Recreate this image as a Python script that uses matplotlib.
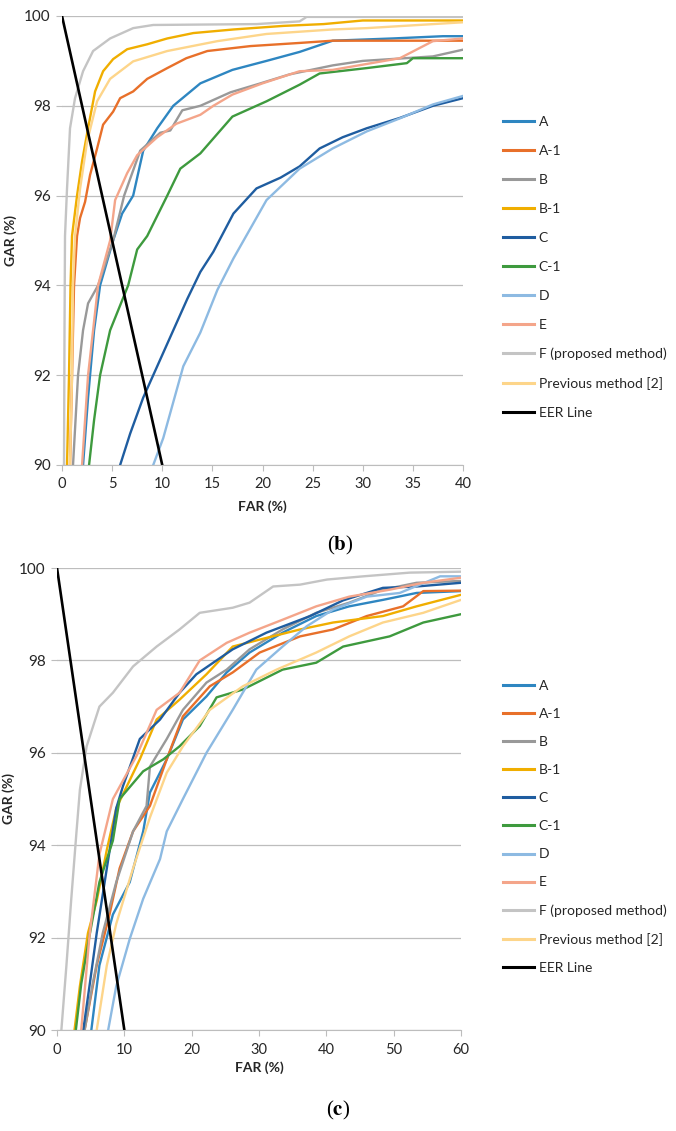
import matplotlib
matplotlib.use("Agg")
import matplotlib.pyplot as plt
from matplotlib.lines import Line2D

plt.rcParams['font.family'] = ['Lato', 'DejaVu Sans']
plt.rcParams['mathtext.fontset'] = 'stix'

# ---------------------------------------------------------------------------
# Data
# ---------------------------------------------------------------------------

series_names = ["A", "A-1", "B", "B-1", "C", "C-1", "D", "E",
                "F (proposed method)", "Previous method [2]"]
series_colors = ["#2E86C1", "#E8702A", "#999999", "#F0AE00", "#1F5DA0",
                 "#3E9A3E", "#8DBAE2", "#F4A58A", "#C4C4C4", "#FDD58A"]

eer_far = [0, 10]
eer_gar = [100, 90]

# --- panel (b) ---
b_far_A = [2.1, 2.6, 3.2, 3.8, 5.1, 6.0, 7.1, 8.1, 9.5, 11.1, 13.8, 17.0, 20.4, 23.7, 27.0, 33.0, 38.0, 40.0]
b_gar_A = [90, 91.5, 93, 94, 95, 95.6, 96, 97, 97.5, 98, 98.5, 98.8, 99.0, 99.2, 99.45, 99.5, 99.55, 99.55]
b_far_A1 = [0.8, 1.0, 1.2, 1.5, 1.8, 2.3, 2.8, 3.5, 4.1, 5.1, 5.8, 7.1, 8.5, 10.5, 12.4, 14.5, 18.8, 23.7, 27.0, 40.0]
b_gar_A1 = [90, 92, 94, 95.1, 95.5, 95.86, 96.46, 97.05, 97.58, 97.87, 98.17, 98.32, 98.6, 98.84, 99.06, 99.22, 99.33, 99.4, 99.45, 99.45]
b_far_B = [1.1, 1.6, 2.1, 2.6, 3.6, 5.1, 6.2, 7.8, 9.8, 10.8, 12.0, 13.8, 16.8, 19.8, 22.7, 27.0, 30.0, 37.0, 40.0]
b_gar_B = [90, 92, 93, 93.6, 94, 95, 96, 97, 97.4, 97.45, 97.9, 98.0, 98.3, 98.5, 98.7, 98.9, 99.0, 99.1, 99.25]
b_far_B1 = [0.5, 0.7, 0.85, 1.0, 1.5, 2.0, 2.6, 3.3, 4.1, 5.1, 6.5, 8.5, 10.5, 13.1, 17.1, 22.1, 26.1, 30.0, 40.0]
b_gar_B1 = [90, 92, 94, 95.1, 96.0, 96.76, 97.5, 98.32, 98.77, 99.04, 99.26, 99.37, 99.5, 99.62, 99.7, 99.78, 99.82, 99.9, 99.9]
b_far_C = [5.8, 6.8, 8.1, 9.1, 10.5, 12.5, 13.8, 15.1, 17.1, 19.4, 21.8, 23.7, 25.7, 28.0, 30.4, 33.7, 37.0, 40.0]
b_gar_C = [90, 90.7, 91.5, 92.0, 92.7, 93.7, 94.3, 94.75, 95.6, 96.16, 96.4, 96.65, 97.05, 97.3, 97.5, 97.73, 98.0, 98.17]
b_far_C1 = [2.7, 3.2, 3.8, 4.8, 6.6, 7.5, 8.5, 10.5, 11.8, 13.8, 17.0, 20.4, 23.7, 25.7, 30.4, 34.4, 35.0, 40.0]
b_gar_C1 = [90, 91, 92, 93, 94, 94.8, 95.1, 96.0, 96.6, 96.94, 97.76, 98.1, 98.47, 98.72, 98.84, 98.95, 99.06, 99.06]
b_far_D = [9.1, 10.1, 11.1, 12.1, 13.8, 15.5, 17.1, 20.4, 23.7, 27.0, 30.4, 33.7, 37.0, 40.0]
b_gar_D = [90, 90.6, 91.4, 92.2, 92.95, 93.9, 94.6, 95.9, 96.6, 97.05, 97.43, 97.72, 98.03, 98.22]
b_far_E = [2.0, 2.6, 3.6, 4.8, 5.3, 6.5, 7.5, 9.5, 11.4, 13.8, 15.1, 17.0, 20.0, 23.7, 27.0, 33.7, 37.0, 40.0]
b_gar_E = [90, 92, 94, 95, 95.9, 96.5, 96.9, 97.3, 97.6, 97.8, 98.0, 98.25, 98.5, 98.77, 98.8, 99.06, 99.44, 99.5]
b_far_F = [0.2, 0.25, 0.3, 0.5, 0.8, 1.3, 2.1, 3.1, 4.8, 7.1, 9.1, 19.4, 23.7, 24.4, 40.0]
b_gar_F = [90, 93, 95.1, 96.15, 97.5, 98.17, 98.77, 99.22, 99.5, 99.73, 99.8, 99.82, 99.88, 99.98, 99.98]
b_far_P = [0.8, 1.0, 1.1, 1.3, 1.8, 2.5, 3.5, 4.8, 7.1, 10.5, 15.5, 20.4, 27.0, 30.4, 40.0]
b_gar_P = [90, 92, 94, 95.1, 96.15, 97.2, 98.1, 98.6, 98.99, 99.22, 99.44, 99.6, 99.7, 99.73, 99.86]

# --- panel (c) ---
c_far_A = [5.1, 6.3, 8.3, 10.8, 12.8, 13.8, 16.3, 18.7, 22.2, 25.2, 28.6, 33.5, 38.5, 43.4, 48.4, 53.4, 60.0]
c_gar_A = [90, 91.4, 92.5, 93.2, 94.3, 95.14, 95.86, 96.72, 97.22, 97.74, 98.17, 98.6, 98.96, 99.17, 99.31, 99.46, 99.5]
c_far_A1 = [4.1, 5.9, 7.8, 9.3, 11.3, 13.8, 16.3, 18.7, 22.7, 26.1, 30.1, 36.1, 41.0, 46.0, 51.4, 54.4, 60.0]
c_gar_A1 = [90, 91.4, 92.5, 93.5, 94.3, 94.85, 95.86, 96.79, 97.44, 97.74, 98.17, 98.52, 98.67, 98.96, 99.17, 99.5, 99.51]
c_far_B = [4.1, 5.3, 6.8, 8.8, 11.3, 13.3, 13.8, 16.3, 18.7, 22.2, 25.2, 28.6, 33.5, 38.5, 43.4, 48.4, 53.4, 60.0]
c_gar_B = [90, 91.0, 92.1, 93.2, 94.3, 94.85, 95.7, 96.3, 96.93, 97.52, 97.8, 98.24, 98.67, 99.03, 99.25, 99.53, 99.68, 99.72]
c_far_B1 = [2.6, 3.4, 4.6, 5.9, 7.4, 8.8, 12.3, 14.8, 18.2, 22.2, 26.1, 30.1, 36.1, 41.0, 48.4, 53.4, 60.0]
c_gar_B1 = [90, 90.95, 92.1, 92.8, 93.9, 94.8, 95.86, 96.72, 97.15, 97.7, 98.3, 98.45, 98.67, 98.82, 98.96, 99.17, 99.42]
c_far_C = [3.9, 4.9, 5.9, 7.4, 8.8, 9.8, 12.3, 15.3, 18.2, 20.7, 26.1, 31.1, 37.6, 42.5, 48.4, 53.4, 60.0]
c_gar_C = [90, 91.03, 92.1, 93.5, 94.8, 95.28, 96.3, 96.72, 97.3, 97.7, 98.24, 98.6, 98.96, 99.3, 99.57, 99.6, 99.68]
c_far_C1 = [2.8, 3.6, 4.9, 6.3, 8.3, 9.3, 12.8, 15.8, 18.2, 21.2, 23.7, 27.6, 33.5, 38.5, 42.5, 49.4, 54.4, 60.0]
c_gar_C1 = [90, 91, 92.1, 93.2, 94.1, 95.0, 95.6, 95.86, 96.14, 96.58, 97.2, 97.37, 97.8, 97.95, 98.3, 98.52, 98.82, 99.0]
c_far_D = [7.6, 8.8, 10.8, 12.8, 15.3, 16.3, 18.7, 22.2, 26.1, 29.6, 33.5, 37.1, 41.0, 46.0, 50.9, 56.9, 60.0]
c_gar_D = [90, 90.95, 91.97, 92.84, 93.7, 94.3, 95.0, 96.0, 96.93, 97.8, 98.3, 98.74, 99.1, 99.38, 99.46, 99.82, 99.82]
c_far_E = [3.6, 4.8, 6.3, 8.3, 11.8, 14.8, 18.2, 21.2, 25.2, 28.6, 33.5, 38.5, 43.4, 49.4, 54.4, 60.0]
c_gar_E = [90, 92.0, 93.8, 95.0, 95.93, 96.93, 97.3, 98.0, 98.38, 98.6, 98.88, 99.17, 99.38, 99.53, 99.68, 99.79]
c_far_F = [0.65, 1.4, 2.1, 2.9, 3.4, 4.4, 6.3, 8.3, 11.3, 14.8, 18.2, 21.2, 26.1, 28.6, 32.1, 36.1, 40.1, 45.5, 52.4, 60.0]
c_gar_F = [90, 91.4, 92.8, 94.3, 95.2, 96.14, 97.0, 97.3, 97.87, 98.3, 98.67, 99.03, 99.14, 99.25, 99.6, 99.64, 99.75, 99.82, 99.9, 99.92]
c_far_P = [5.9, 7.4, 8.8, 11.3, 13.8, 16.3, 18.7, 22.7, 27.6, 32.6, 38.5, 43.4, 48.4, 54.4, 60.0]
c_gar_P = [90, 91.4, 92.3, 93.5, 94.6, 95.57, 96.14, 96.93, 97.44, 97.8, 98.17, 98.52, 98.82, 99.03, 99.31]

b_far = [b_far_A, b_far_A1, b_far_B, b_far_B1, b_far_C, b_far_C1, b_far_D, b_far_E, b_far_F, b_far_P]
b_gar = [b_gar_A, b_gar_A1, b_gar_B, b_gar_B1, b_gar_C, b_gar_C1, b_gar_D, b_gar_E, b_gar_F, b_gar_P]
c_far = [c_far_A, c_far_A1, c_far_B, c_far_B1, c_far_C, c_far_C1, c_far_D, c_far_E, c_far_F, c_far_P]
c_gar = [c_gar_A, c_gar_A1, c_gar_B, c_gar_B1, c_gar_C, c_gar_C1, c_gar_D, c_gar_E, c_gar_F, c_gar_P]

W, H = 676, 1131
GRID = "#BDBDBD"
TXT = "#262626"


def draw_panel(ax, fars, gars, xmax, xstep):
    for far, gar, color in zip(fars, gars, series_colors):
        ax.plot(far, gar, color=color, lw=1.7, solid_joinstyle="round")
    ax.plot(eer_far, eer_gar, color="black", lw=1.9)

    ax.set_xlim(0, xmax)
    ax.set_ylim(90, 100)
    ax.set_xticks(range(0, xmax + 1, xstep))
    ax.set_yticks(range(90, 101, 2))
    ax.grid(axis="y", color=GRID, lw=0.9)
    ax.set_axisbelow(True)
    for s in ("top", "right", "left"):
        ax.spines[s].set_visible(False)
    ax.spines["bottom"].set_color(GRID)
    ax.tick_params(axis="x", length=4, color=GRID, pad=5, labelsize=10.5, labelcolor=TXT)
    ax.tick_params(axis="y", length=4, color=GRID, pad=4, labelsize=11, labelcolor=TXT)

    ax.set_xlabel("FAR (%)", fontsize=10, fontweight="bold", color=TXT)
    ax.set_ylabel("GAR (%)", fontsize=10, fontweight="bold", color=TXT)


fig = plt.figure(figsize=(W / 100, H / 100), dpi=100)

ax_b = fig.add_axes([62 / W, 1 - 465 / H, 401 / W, 449 / H])
ax_c = fig.add_axes([57 / W, 1 - 1030 / H, 404 / W, 462 / H])

draw_panel(ax_b, b_far, b_gar, 40, 5)
draw_panel(ax_c, c_far, c_gar, 60, 10)

ax_b.xaxis.set_label_coords(0.5, -0.078)
ax_b.yaxis.set_label_coords(-0.112, 0.5)
ax_c.xaxis.set_label_coords(0.5, -0.068)
ax_c.yaxis.set_label_coords(-0.104, 0.5)

# legends
handles = [Line2D([], [], color=c, lw=2.2) for c in series_colors]
handles.append(Line2D([], [], color="black", lw=2.2))
labels = series_names + ["EER Line"]

for cy, spacing in ((1 - 267.5 / H, 1.22), (1 - 827 / H, 1.16)):
    fig.legend(handles, labels, loc="center left", bbox_to_anchor=(490 / W, cy),
               frameon=False, fontsize=10, handlelength=2.3, handletextpad=0.3,
               labelspacing=spacing, labelcolor=TXT)

# panel captions
fig.text(340 / W, 1 - 545 / H, r"($\mathbf{b}$)", ha="center", va="center",
         fontsize=15, family="Liberation Serif")
fig.text(338 / W, 1 - 1110 / H, r"($\mathbf{c}$)", ha="center", va="center",
         fontsize=15, family="Liberation Serif")

fig.savefig("out.png", dpi=100)
